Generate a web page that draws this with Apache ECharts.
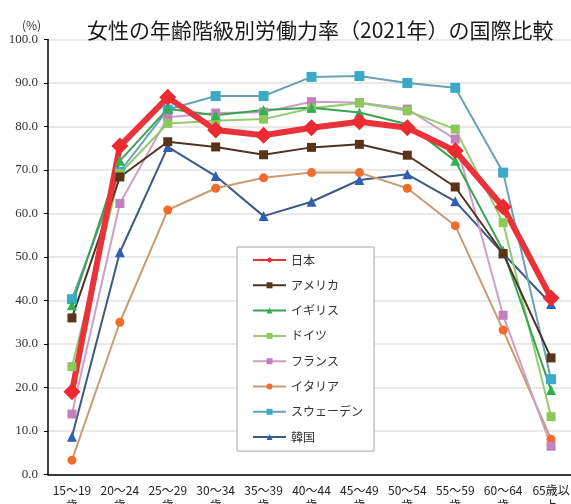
<!DOCTYPE html>
<html>
<head>
<meta charset="utf-8">
<script src="https://cdn.jsdelivr.net/npm/echarts@6/dist/echarts.min.js"></script>
<style>
html,body{margin:0;padding:0;background:#fff;}
#chart{width:571px;height:504px;}
</style>
</head>
<body>
<div id="chart"></div>
<script>
var categories = ['15～19\n歳','20～24\n歳','25～29\n歳','30～34\n歳','35～39\n歳','40～44\n歳','45～49\n歳','50～54\n歳','55～59\n歳','60～64\n歳','65歳以\n上'];
var yTicks = [0,10,20,30,40,50,60,70,80,90,100];

var japan   = [19.0, 75.5, 86.7, 79.2, 78.0, 79.7, 81.1, 79.7, 74.4, 61.5, 40.6];
var usa     = [36.0, 68.4, 76.5, 75.3, 73.5, 75.2, 75.9, 73.4, 66.1, 50.8, 26.8];
var uk      = [38.9, 72.1, 84.1, 82.6, 83.8, 84.3, 83.2, 80.5, 72.1, 51.5, 19.4];
var germany = [24.8, 69.2, 80.7, 81.3, 81.7, 84.2, 85.4, 83.6, 79.4, 57.9, 13.3];
var france  = [13.9, 62.3, 82.1, 83.1, 83.3, 85.7, 85.5, 84.0, 77.1, 36.6, 6.5];
var italy   = [3.3, 35.0, 60.8, 65.8, 68.2, 69.4, 69.4, 65.8, 57.2, 33.2, 8.1];
var sweden  = [40.3, 69.6, 83.9, 87.0, 87.0, 91.4, 91.6, 90.0, 88.9, 69.4, 21.9];
var korea   = [8.7, 51.1, 75.3, 68.6, 59.4, 62.7, 67.7, 69.0, 62.8, 50.8, 39.2];

var names = ['日本','アメリカ','イギリス','ドイツ','フランス','イタリア','スウェーデン','韓国'];

function mk(name, data, symbol, size, lineColor, markColor, width) {
  return {
    name: name, type: 'line', data: data,
    symbol: symbol, symbolSize: size,
    lineStyle: {color: lineColor, width: width},
    itemStyle: {color: markColor},
    emphasis: {disabled: true},
    animation: false
  };
}

var series = [
  mk('韓国', korea, 'triangle', 10, '#3c5a84', '#2e5fb5', 2),
  mk('スウェーデン', sweden, 'rect', 10, '#6aa2b8', '#3aaac8', 2),
  mk('イタリア', italy, 'circle', 9, '#c99c70', '#f26b2b', 2),
  mk('フランス', france, 'rect', 9, '#cc9fc8', '#c47fbe', 2),
  mk('ドイツ', germany, 'rect', 9, '#92cc6c', '#8dc85a', 2),
  mk('イギリス', uk, 'triangle', 10, '#3aa352', '#2fb34f', 2),
  mk('アメリカ', usa, 'rect', 9, '#4e3424', '#5a3416', 2),
  mk('日本', japan, 'diamond', 17, '#e8333a', '#ec2a31', 6)
];

var chart = echarts.init(document.getElementById('chart'), null, {renderer: 'canvas'});
chart.setOption({
  backgroundColor: '#ffffff',
  animation: false,
  title: [
    {text: '女性の年齢階級別労働力率（2021年）の国際比較', left: 82, top: 15,
     textStyle: {fontSize: 21, fontWeight: 'normal', color: '#1a1a1a', fontFamily: 'Noto Sans CJK JP'}},
    {text: '(%)', left: 17, top: 14,
     textStyle: {fontSize: 12, fontWeight: 'normal', color: '#333', fontFamily: 'Noto Sans CJK JP'}}
  ],
  legend: {
    data: names,
    orient: 'vertical',
    left: 237, top: 247,
    padding: [7, 11, 8, 15],
    itemWidth: 33, itemHeight: 7.5, itemGap: 13.3,
    borderColor: '#a6a6a6', borderWidth: 1,
    backgroundColor: '#ffffff',
    textStyle: {fontSize: 12, color: '#333', fontFamily: 'Noto Sans CJK JP'}
  },
  grid: {left: 48, top: 39.5, bottom: 29.5, width: 527, containLabel: false, outerBoundsMode: 'none'},
  xAxis: {
    type: 'category', data: categories, boundaryGap: true,
    axisLine: {lineStyle: {color: '#000', width: 1.5}},
    axisTick: {show: false},
    axisLabel: {interval: 0, margin: 8, fontSize: 12, lineHeight: 15, color: '#222', fontFamily: 'Noto Sans CJK JP'}
  },
  yAxis: {
    type: 'value', min: yTicks[0], max: yTicks[yTicks.length - 1], interval: 10,
    axisLine: {show: true, lineStyle: {color: '#000', width: 1.5}},
    axisTick: {show: true, inside: false, length: 4, lineStyle: {color: '#000'}},
    axisLabel: {margin: 10, fontSize: 13, color: '#333', fontFamily: 'Liberation Serif',
      formatter: function (v) { return v.toFixed(1); }},
    splitLine: {lineStyle: {color: '#e2e2e2', width: 1.5}}
  },
  series: series
});
</script>
</body>
</html>
